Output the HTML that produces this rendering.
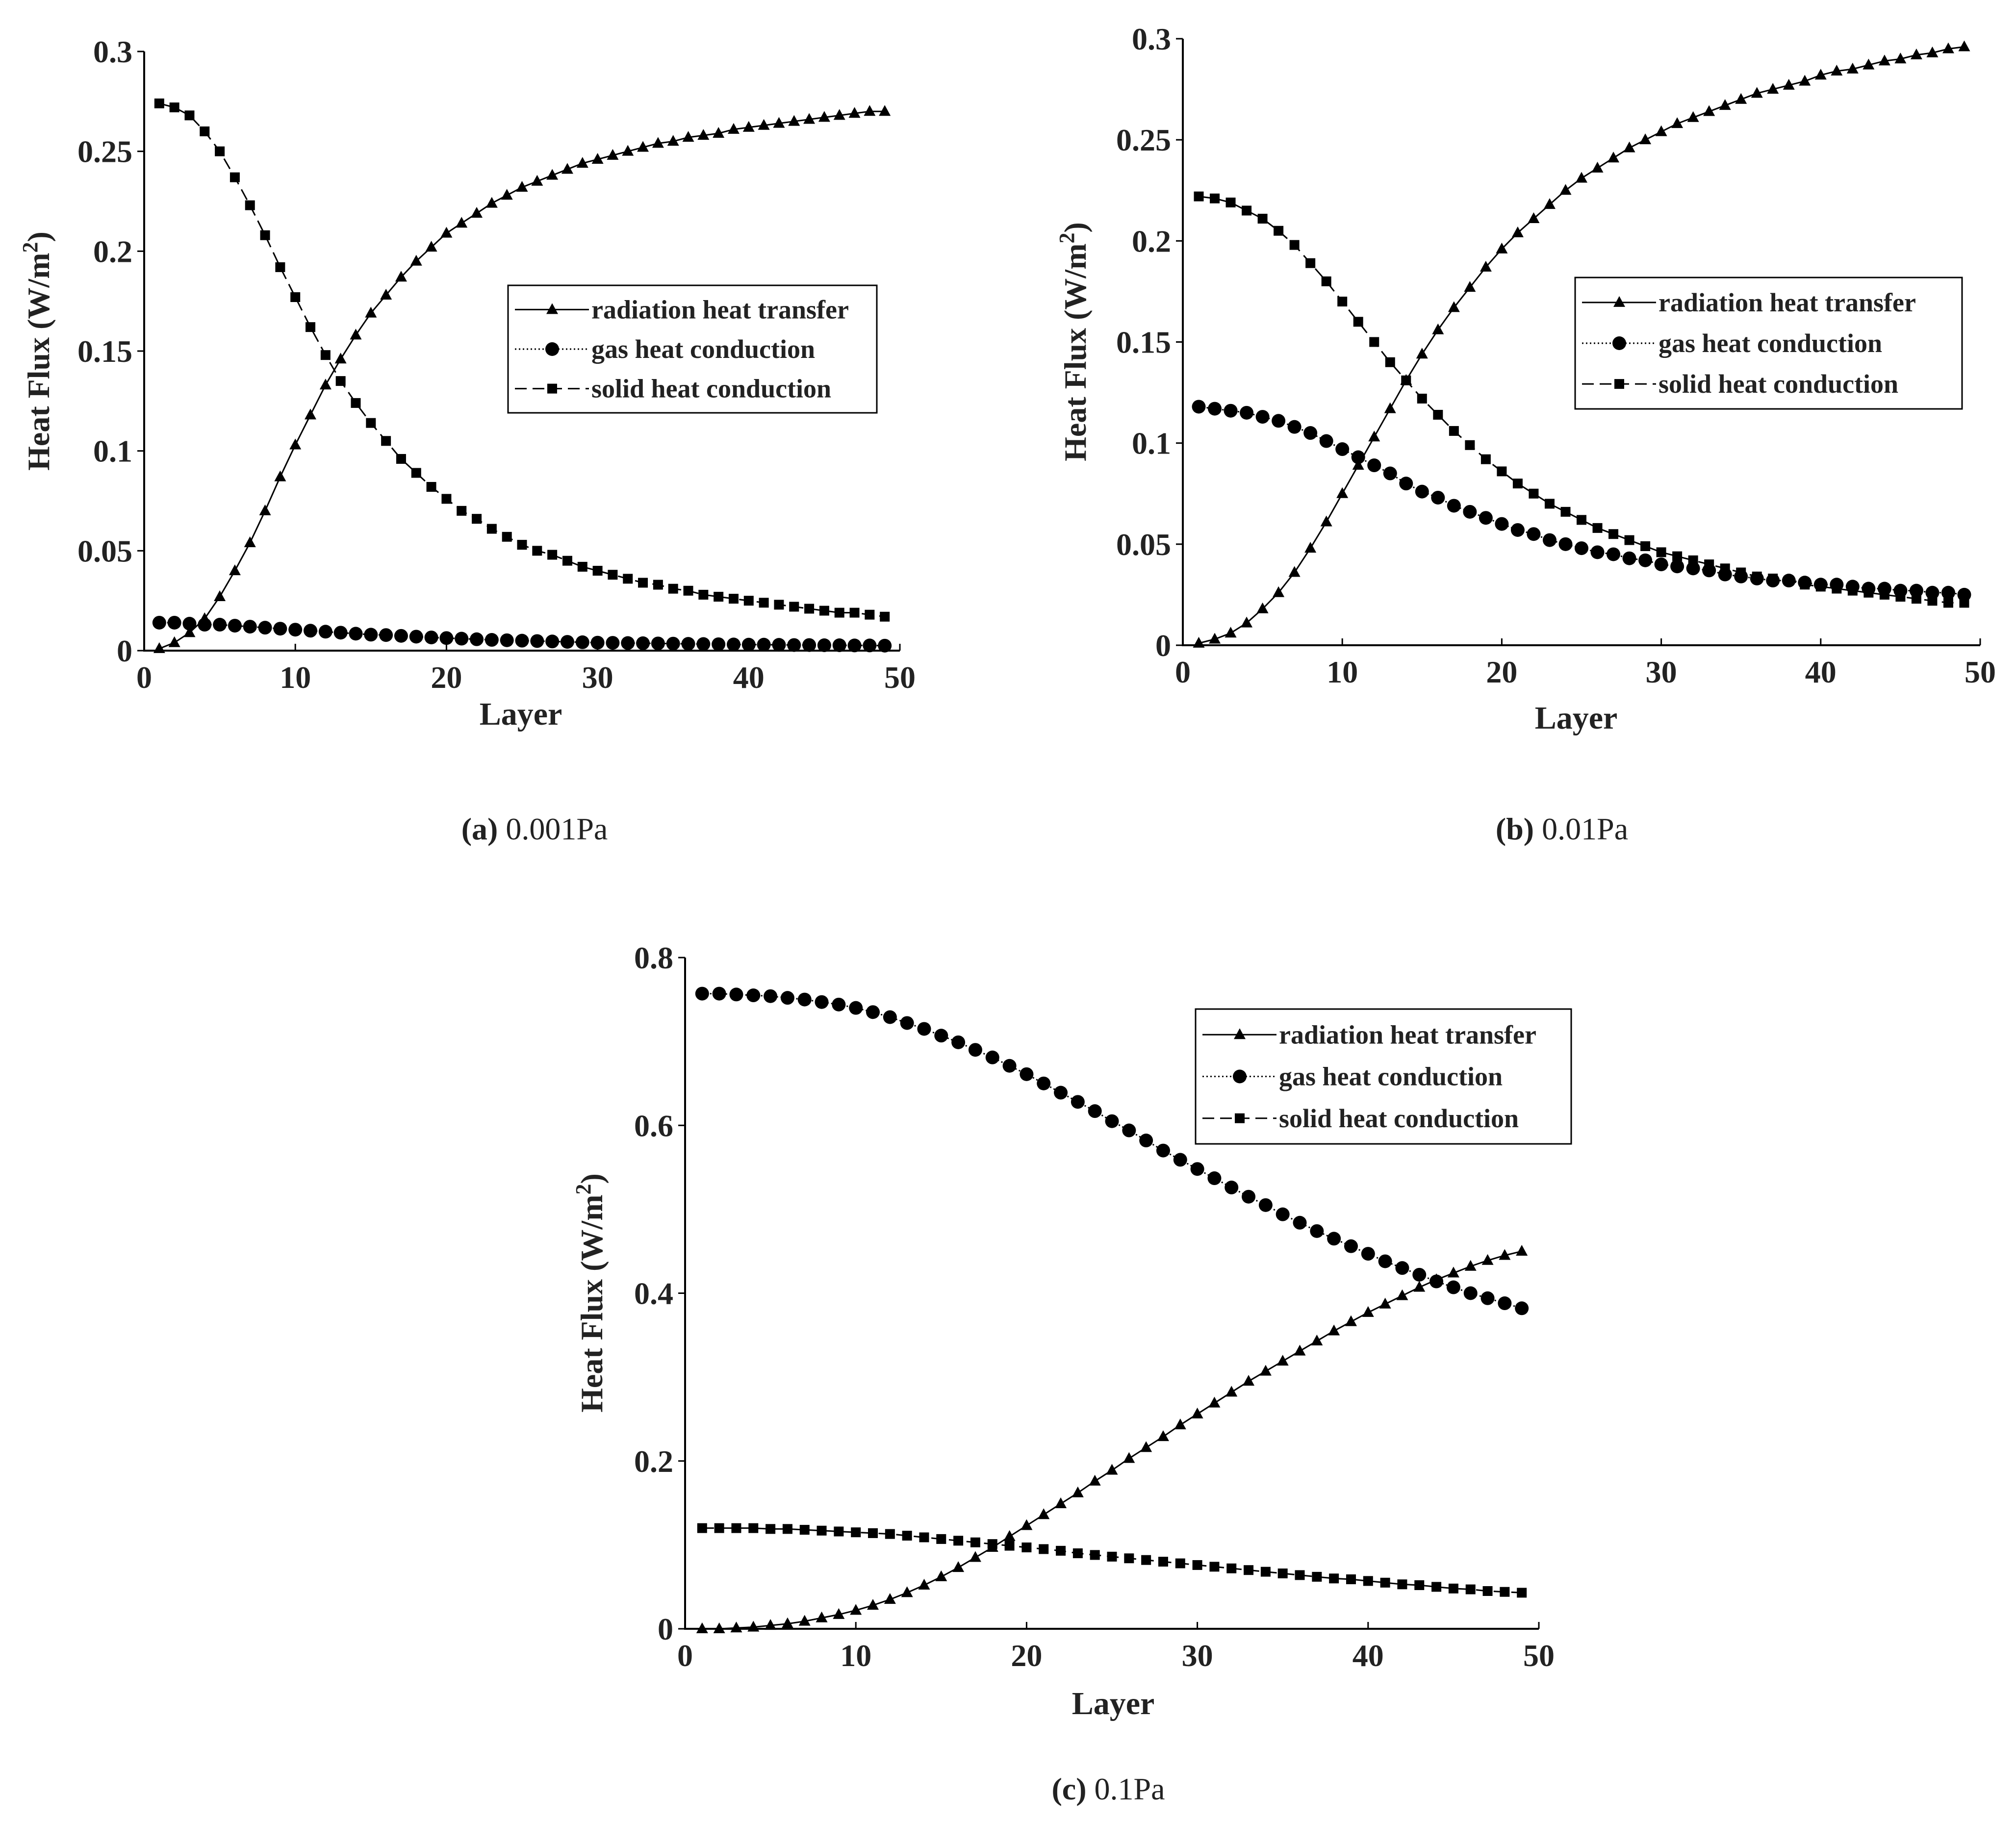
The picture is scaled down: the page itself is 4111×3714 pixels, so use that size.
<!DOCTYPE html>
<html><head><meta charset="utf-8"><style>
html,body{margin:0;padding:0;background:#fff;}
svg{display:block;font-family:"Liberation Serif",serif;}
</style></head><body>
<svg id="fig" width="4111" height="3714" viewBox="0 0 4111 3714" xmlns="http://www.w3.org/2000/svg">
<rect width="4111" height="3714" fill="#fff"/>
</svg>
<script>
const layers = Array.from({length:49},(_,i)=>i+1);
const xTicks = [0,10,20,30,40,50];
const yTicksA = [0,0.05,0.1,0.15,0.2,0.25,0.3];
const yTicksC = [0,0.2,0.4,0.6,0.8];

const radA = [0.001,0.004,0.009,0.016,0.027,0.040,0.054,0.070,0.087,0.103,0.118,0.133,0.146,0.158,0.169,0.178,0.187,0.195,0.202,0.209,0.214,0.219,0.224,0.228,0.232,0.235,0.238,0.241,0.244,0.246,0.248,0.250,0.252,0.254,0.255,0.257,0.258,0.259,0.261,0.262,0.263,0.264,0.265,0.266,0.267,0.268,0.269,0.270,0.270];
const gasA = [0.014,0.014,0.0135,0.013,0.013,0.0125,0.012,0.0115,0.011,0.0105,0.010,0.0095,0.009,0.0085,0.008,0.0078,0.0074,0.007,0.0066,0.0063,0.006,0.0057,0.0054,0.0052,0.005,0.0048,0.0046,0.0044,0.0042,0.004,0.0039,0.0038,0.0037,0.0036,0.0035,0.0034,0.0033,0.0032,0.0031,0.0030,0.0030,0.0029,0.0028,0.0028,0.0027,0.0027,0.0026,0.0026,0.0025];
const solA = [0.274,0.272,0.268,0.260,0.250,0.237,0.223,0.208,0.192,0.177,0.162,0.148,0.135,0.124,0.114,0.105,0.096,0.089,0.082,0.076,0.070,0.066,0.061,0.057,0.053,0.050,0.048,0.045,0.042,0.040,0.038,0.036,0.034,0.033,0.031,0.030,0.028,0.027,0.026,0.025,0.024,0.023,0.022,0.021,0.020,0.019,0.019,0.018,0.017];

const radB = [0.001,0.003,0.006,0.011,0.018,0.026,0.036,0.048,0.061,0.075,0.089,0.103,0.117,0.131,0.144,0.156,0.167,0.177,0.187,0.196,0.204,0.211,0.218,0.225,0.231,0.236,0.241,0.246,0.250,0.254,0.258,0.261,0.264,0.267,0.270,0.273,0.275,0.277,0.279,0.282,0.284,0.285,0.287,0.289,0.290,0.292,0.293,0.295,0.296];
const gasB = [0.118,0.117,0.116,0.115,0.113,0.111,0.108,0.105,0.101,0.097,0.093,0.089,0.085,0.080,0.076,0.073,0.069,0.066,0.063,0.060,0.057,0.055,0.052,0.050,0.048,0.046,0.045,0.043,0.042,0.040,0.039,0.038,0.037,0.035,0.034,0.033,0.032,0.032,0.031,0.030,0.030,0.029,0.028,0.028,0.027,0.027,0.026,0.026,0.025];
const solB = [0.222,0.221,0.219,0.215,0.211,0.205,0.198,0.189,0.180,0.170,0.160,0.150,0.140,0.131,0.122,0.114,0.106,0.099,0.092,0.086,0.080,0.075,0.070,0.066,0.062,0.058,0.055,0.052,0.049,0.046,0.044,0.042,0.040,0.038,0.036,0.034,0.033,0.032,0.030,0.029,0.028,0.027,0.026,0.025,0.024,0.023,0.022,0.021,0.021];

const radC = [0,0,0.001,0.002,0.004,0.006,0.009,0.013,0.017,0.022,0.028,0.035,0.043,0.052,0.062,0.073,0.085,0.097,0.110,0.123,0.136,0.149,0.162,0.176,0.189,0.203,0.216,0.229,0.243,0.256,0.269,0.282,0.295,0.307,0.319,0.331,0.343,0.355,0.366,0.377,0.387,0.397,0.407,0.416,0.424,0.432,0.439,0.445,0.450];
const gasC = [0.757,0.757,0.756,0.755,0.754,0.752,0.750,0.747,0.744,0.740,0.735,0.729,0.722,0.715,0.707,0.699,0.690,0.681,0.671,0.661,0.650,0.639,0.628,0.617,0.605,0.594,0.582,0.570,0.559,0.548,0.537,0.526,0.515,0.505,0.494,0.484,0.474,0.465,0.456,0.447,0.438,0.430,0.422,0.414,0.407,0.400,0.394,0.388,0.382];
const solC = [0.120,0.120,0.120,0.120,0.119,0.119,0.118,0.117,0.116,0.115,0.114,0.113,0.111,0.109,0.107,0.105,0.103,0.101,0.099,0.097,0.095,0.093,0.090,0.088,0.086,0.084,0.082,0.080,0.078,0.076,0.074,0.072,0.070,0.068,0.066,0.064,0.062,0.060,0.059,0.057,0.055,0.053,0.052,0.050,0.048,0.047,0.045,0.044,0.043];

const NS="http://www.w3.org/2000/svg";
const svg=document.getElementById('fig');
function mk(tag,attrs,parent){const e=document.createElementNS(NS,tag);for(const k in attrs)e.setAttribute(k,attrs[k]);(parent||svg).appendChild(e);return e;}

function marker(g,type,x,y){
  let m;
  if(type==='tri'){m=mk('polygon',{points:`${x},${y-13} ${x-12},${y+9} ${x+12},${y+9}`,fill:'#000'},g);}
  else if(type==='circ'){m=mk('circle',{cx:x,cy:y,r:14,fill:'#000'},g);}
  else {m=mk('rect',{x:x-10,y:y-10,width:20,height:20,fill:'#000'},g);}
  return m;
}

function panel(id,cfg){
  const g=mk('g',{});
  
  
  const {x0,x1,y0,y1,ymax,yTicks,fmt}=cfg;
  const sx=v=>x0+(v/50)*(x1-x0);
  const sy=v=>y0-(v/ymax)*(y0-y1);
  const ax=mk('path',{d:`M${x0},${y1} L${x0},${y0} L${x1},${y0}`,fill:'none',stroke:'#000','stroke-width':4},g);
  
  
  xTicks.forEach(t=>{
    mk('line',{x1:sx(t),y1:y0,x2:sx(t),y2:y0-14,stroke:'#000','stroke-width':3},g);
    const tx=mk('text',{x:sx(t),y:y0+76,'text-anchor':'middle','font-size':64,'font-weight':'bold',fill:'#222'},g);
    tx.textContent=t;
    
    
  });
  yTicks.forEach(t=>{
    mk('line',{x1:x0,y1:sy(t),x2:x0-14,y2:sy(t),stroke:'#000','stroke-width':3},g);
    const tx=mk('text',{x:x0-24,y:sy(t)+22,'text-anchor':'end','font-size':64,'font-weight':'bold',fill:'#222'},g);
    tx.textContent=fmt(t);
    
    
  });
  const xl=mk('text',{x:cfg.xl[0],y:cfg.xl[1],'text-anchor':'middle','font-size':66,'font-weight':'bold',fill:'#222'},g);
  xl.textContent='Layer';
  
  
  const yl=mk('text',{x:0,y:0,'text-anchor':'middle','font-size':64,'font-weight':'bold',fill:'#222',transform:`translate(${cfg.yl[0]},${cfg.yl[1]}) rotate(-90)`},g);
  yl.innerHTML='Heat Flux (W/m<tspan dy="-24" font-size="44">2</tspan><tspan dy="24">)</tspan>';
  
  
  const series=[['radiation',cfg.rad,'tri','none'],['gas',cfg.gas,'circ','3 5'],['solid',cfg.sol,'sq','24 12']];
  series.forEach(([nm,vals,mt,dash])=>{
    const sg=mk('g',{},g);
    
    
    const d=vals.map((v,i)=>(i?'L':'M')+sx(layers[i])+','+sy(v)).join(' ');
    const p=mk('path',{d,fill:'none',stroke:'#000','stroke-width':3,'stroke-dasharray':dash},sg);
    
    
    vals.forEach((v,i)=>{
      const m=marker(sg,mt,sx(layers[i]),sy(v));
      
      
    });
  });
  const [lx,ly,lw,lh]=cfg.leg;
  const lg=mk('g',{},g);
  
  
  mk('rect',{x:lx,y:ly,width:lw,height:lh,fill:'#fff',stroke:'#000','stroke-width':3},lg);
  const labels=['radiation heat transfer','gas heat conduction','solid heat conduction'];
  const types=['tri','circ','sq'],dashes=['none','3 5','24 12'];
  labels.forEach((lab,i)=>{
    const cy=ly+lh*(0.19+0.31*i);
    const e=mk('g',{},lg);
    
    
    mk('line',{x1:lx+14,y1:cy,x2:lx+165,y2:cy,stroke:'#000','stroke-width':3,'stroke-dasharray':dashes[i]},e);
    marker(e,types[i],lx+90,cy);
    const t=mk('text',{x:lx+170,y:cy+18,'font-size':54,'font-weight':'bold',fill:'#222'},e);
    t.textContent=lab;
  });
  const cap=mk('text',{x:cfg.cap[0],y:cfg.cap[1],'text-anchor':'middle','font-size':64,fill:'#222'},g);
  cap.innerHTML='<tspan font-weight="bold">'+cfg.capA+'</tspan> '+cfg.capB;
  
  
}
const f2=t=>t===0?'0':String(+t.toFixed(2));
const f1=t=>t===0?'0':String(+t.toFixed(1));
panel('panel-a',{x0:294,x1:1835,y0:1327,y1:105,ymax:0.3,yTicks:yTicksA,fmt:f2,rad:radA,gas:gasA,sol:solA,
  xl:[1062,1478],yl:[100,716],leg:[1036,582,752,260],cap:[1090,1712],capA:'(a)',capB:'0.001Pa'});
panel('panel-b',{x0:2412,x1:4038,y0:1316,y1:79,ymax:0.3,yTicks:yTicksA,fmt:f2,rad:radB,gas:gasB,sol:solB,
  xl:[3214,1486],yl:[2214,697],leg:[3212,566,789,268],cap:[3185,1712],capA:'(b)',capB:'0.01Pa'});
panel('panel-c',{x0:1397,x1:3138,y0:3322,y1:1953,ymax:0.8,yTicks:yTicksC,fmt:f1,rad:radC,gas:gasC,sol:solC,
  xl:[2270,3496],yl:[1228,2637],leg:[2438,2058,766,275],cap:[2260,3670],capA:'(c)',capB:'0.1Pa'});
</script>
</body></html>
